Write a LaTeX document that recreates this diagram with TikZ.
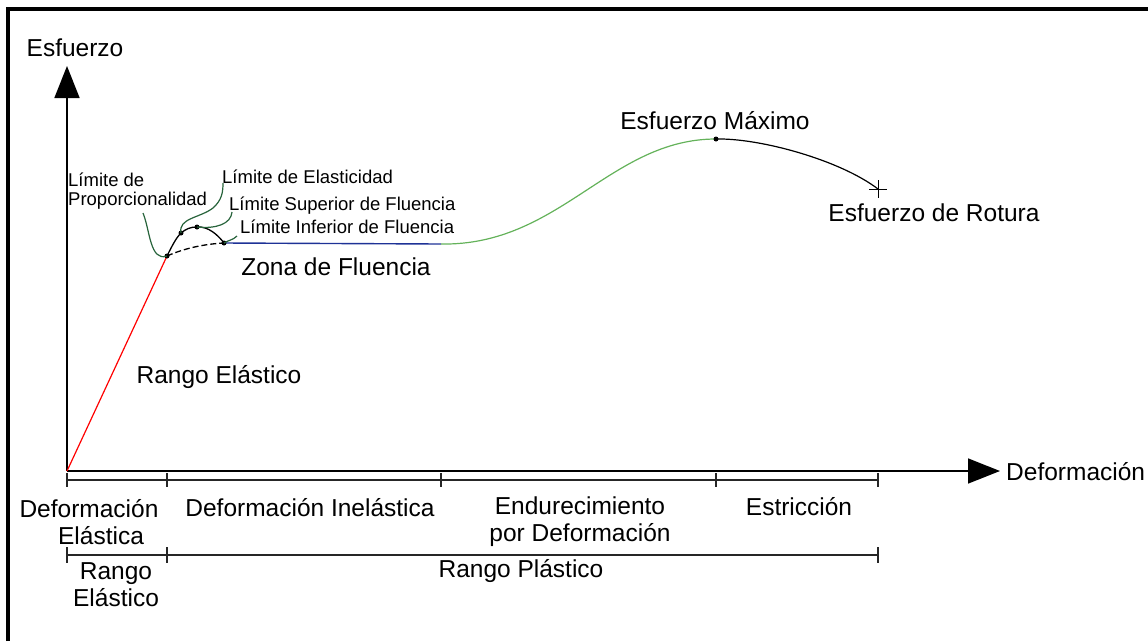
\documentclass[tikz,border=0pt]{standalone}
\usepackage{fontspec}
\setmainfont{Liberation Sans}
\usetikzlibrary{arrows.meta}
\definecolor{leadgreen}{RGB}{40,100,60}
\definecolor{hardgreen}{RGB}{100,178,90}
\definecolor{yieldblue}{RGB}{30,50,150}
\begin{document}
\begin{tikzpicture}[x=1pt,y=-1pt,
	big/.style={inner sep=0, align=center, font=\fontsize{24.5}{27}\selectfont},
	small/.style={inner sep=0, anchor=west, align=left, font=\fontsize{18.5}{18.5}\selectfont},
	dot/.style={circle, fill=black, draw=none, minimum size=5pt, inner sep=0},
	leader/.style={draw=leadgreen, line width=1.2pt},
	scaleline/.style={line width=1.4pt, draw=black!85},
	axis/.style={line width=1.6pt, -{Triangle[length=32pt,width=25pt]}}]
	\useasboundingbox (0,0) rectangle (1148,641);
	
	% frame
	\draw[line width=4pt] (8,641) -- (8,9) -- (1148,9);
	
	% axes
	\coordinate (O) at (67,471);
	\coordinate (ytip) at (67,66);
	\coordinate (xtip) at (1000,471);
	\draw[axis] (O) -- (ytip);
	\draw[axis] (O) -- (xtip);
	\node[big] (esf) at (75,48) {Esfuerzo};
	\node[big, anchor=west] (def) at (1006,472) {Deformación};
	
	% scales under the axis
	\draw[scaleline] (67,480) -- (878,480);
	\foreach \x in {67,167,441,716,878}
		\draw[scaleline] (\x,473) -- (\x,487);
	\draw[scaleline] (67,555) -- (878,555);
	\foreach \x in {67,167,878}
		\draw[scaleline] (\x,547) -- (\x,563);
	
	% points of the curve
	\coordinate (P) at (167,256);
	\coordinate (E) at (181,233);
	\coordinate (U) at (197,227);
	\coordinate (L) at (224,243);
	\coordinate (F) at (441,244);
	\coordinate (M) at (716,139);
	\coordinate (R) at (878,189);
	
	% curve
	\draw[red, line width=1.2pt] (O) -- (P);
	\draw[line width=1.3pt] (P) .. controls (172,246) and (176,238) .. (E)
		.. controls (186,229) and (190,227) .. (U)
		.. controls (208,226) and (218,235) .. (L);
	\draw[line width=1.3pt, dash pattern=on 6pt off 3pt] (P) .. controls (185,248) and (205,244) .. (L);
	\draw[yieldblue, line width=1.4pt] (L) -- (F);
	\draw[hardgreen, line width=1.2pt] (F) .. controls (560,246) and (610,139) .. (M);
	\draw[line width=1.2pt] (M) .. controls (760,138) and (840,160) .. (R);
	\draw[line width=1pt] (R) +(-9,0) -- +(9,0) (R) +(0,-9) -- +(0,9);
	\foreach \p in {P,E,U,L,M}
		\node[dot] (d\p) at (\p) {};
	
	% leaders
	\coordinate (propend) at (143,213);
	\coordinate (elasend) at (223,183);
	\coordinate (supend) at (232,212);
	\coordinate (infend) at (237,236);
	\draw[leader] (P) .. controls (150,262) and (150,230) .. (propend);
	\draw[leader] (E) .. controls (178,218) and (200,218) .. (213,208)
		.. controls (222,200) and (223,192) .. (elasend);
	\draw[leader] (U) .. controls (216,229) and (231,224) .. (supend);
	\draw[leader] (L) .. controls (229,240) and (233,240) .. (infend);
	
	% labels
	\node[small] (lprop) at (68,191) {Límite de\\Proporcionalidad};
	\node[small] (lelas) at (222,177) {Límite de Elasticidad};
	\node[small] (lsup) at (229,206) {Límite Superior de Fluencia};
	\node[small] (linf) at (240,227) {Límite Inferior de Fluencia};
	\node[big] (zona) at (336,267) {Zona de Fluencia};
	\node[big] (relas) at (219,377) {Rango Elástico};
	\node[big] (emax) at (715,121) {Esfuerzo Máximo};
	\node[big] (erot) at (934,213) {Esfuerzo de Rotura};
	
	\node[big] (delas) at (89,522) {Deformación\\\hspace*{24pt}Elástica};
	\node[big] (dinel) at (310,508) {Deformación Inelástica};
	\node[big] (endu) at (580,522) {Endurecimiento\\por Deformación};
	\node[big] (estr) at (799,507) {Estricción};
	\node[big] (rel) at (116,585) {Rango\\Elástico};
	\node[big] (rpl) at (521,571) {Rango Plástico};
\end{tikzpicture}
\end{document}
